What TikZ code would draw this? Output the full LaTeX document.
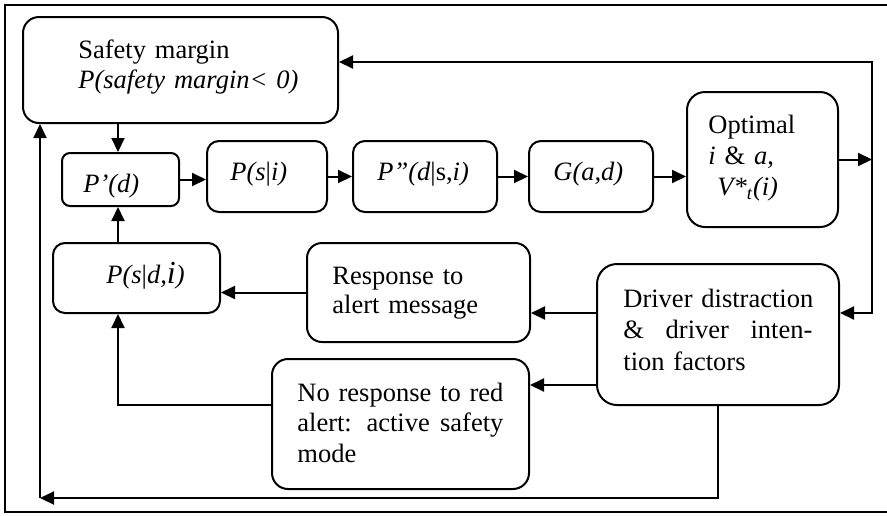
\documentclass[tikz,border=0pt]{standalone}
\usepackage{fontspec}
\setmainfont{Liberation Serif}
\usetikzlibrary{calc,arrows.meta}

\begin{document}
\begin{tikzpicture}[x=0.5pt,y=-0.5pt,
	>={Triangle[length=7pt,width=6.5pt]},
	box/.style={draw=black,line width=1pt,rounded corners=6pt,inner sep=0pt},
	lbl/.style={anchor=base west,inner sep=0pt,font=\fontsize{13.25}{15.3}\selectfont},
	con/.style={->,line width=1pt}]

\useasboundingbox (0,0) rectangle (887,515);

%outer frame
\draw[line width=1pt] (887,5) -- (5,5) -- (5,512) -- (887,512);

%boxes
\node[box,rounded corners=8pt,minimum width=157.5pt,minimum height=53pt](safety) at (180.5,70){};
\node[box,rounded corners=4pt,minimum width=58.5pt,minimum height=26.5pt](pd) at (120.5,179.5){};
\node[box,minimum width=60pt,minimum height=35.5pt](psi) at (267,176.5){};
\node[box,minimum width=72pt,minimum height=35.5pt](pdsi) at (425,176.5){};
\node[box,minimum width=62pt,minimum height=35.5pt](gad) at (591,176.5){};
\node[box,rounded corners=9pt,minimum width=75.5pt,minimum height=67.5pt](opt) at (762.5,159.5){};
\node[box,minimum width=83.5pt,minimum height=35pt](psdi) at (136.5,278){};
\node[box,rounded corners=7.5pt,minimum width=111.5pt,minimum height=49.5pt](resp) at (418.5,292.5){};
\node[box,rounded corners=8pt,minimum width=128.5pt,minimum height=65pt](noresp) at (400.5,424){};
\node[box,rounded corners=10pt,minimum width=121pt,minimum height=70.5pt](driver) at (718,334.5){};

%texts
\node[lbl,text width=140pt,align=left](tsafety) at (78,58){Safety margin\\\textit{P(safety margin< 0)}};
\node[lbl](tpd) at (83,192){\textit{P’(d)}};
\node[lbl](tpsi) at (230,180){\textit{P(s}|\textit{i)}};
\node[lbl](tpdsi) at (377,180){\textit{P”(d}|s,\textit{i)}};
\node[lbl](tgad) at (553,180){\textit{G(a,d)}};
\node[lbl,text width=64pt,align=left,font=\fontsize{13.25}{15.5}\selectfont](topt) at (708,133){Optimal\\\textit{i} \& \textit{a},\\\hspace*{4.5pt}\textit{V*\textsubscript{t}(i)}};
\node[lbl](tpsdi) at (106,283){\textit{P(s}|\textit{d,}{\fontsize{16}{16}\selectfont\textit{i}}\textit{)}};
\node[lbl,text width=100pt,align=left,font=\fontsize{13.25}{14.5}\selectfont](tresp) at (332,284){Response to\\alert message};
\node[lbl,text width=120pt,align=left,font=\fontsize{13.25}{15.75}\selectfont](tdriver) at (623,307){Driver distraction\\\makebox[94.5pt][s]{\& \hfill driver \hfill inten-}\\tion factors};
\node[lbl,text width=120pt,align=left](tnoresp) at (297,401){\makebox[103pt][s]{No \hfill response \hfill to \hfill red}\\\makebox[103pt][s]{alert: \hfill active \hfill safety}\\mode};

%helper points
\coordinate (colA) at (118,0);
\coordinate (colB) at (40,498);
\coordinate (rt) at (872,62);
\coordinate (rb) at (872,313);
\coordinate (d1) at ($(driver.west)+(0,-21.5)$);
\coordinate (d2) at ($(driver.west)+(0,50.5)$);
\coordinate (n1) at ($(noresp.west)+(0,-19)$);

%main row
\foreach \a/\b in {pd/psi, psi/pdsi, pdsi/gad, gad/opt}
{
	\draw[con](\a.east) -- (\a.east -| \b.west);
}
\draw[con](colA |- safety.south) -- (colA |- pd.north);
\draw[con](colA |- psdi.north) -- (colA |- pd.south);

%feedback on the right
\draw[con](opt.east) -- (opt.east -| rt);
\draw[con,<->](rt -| safety.east) -- (rt) -- (rb) -- (rb -| driver.east);

%driver outputs
\draw[con](d1) -- (d1 -| resp.east);
\draw[con](d2) -- (d2 -| noresp.east);
\draw[con](resp.west) -- (resp.west -| psdi.east);
\draw[con](n1) -| (colA |- psdi.south);
\draw[con](driver.south) |- (colB);
\draw[con](colB) -- (colB |- safety.south);
\end{tikzpicture}
\end{document}
